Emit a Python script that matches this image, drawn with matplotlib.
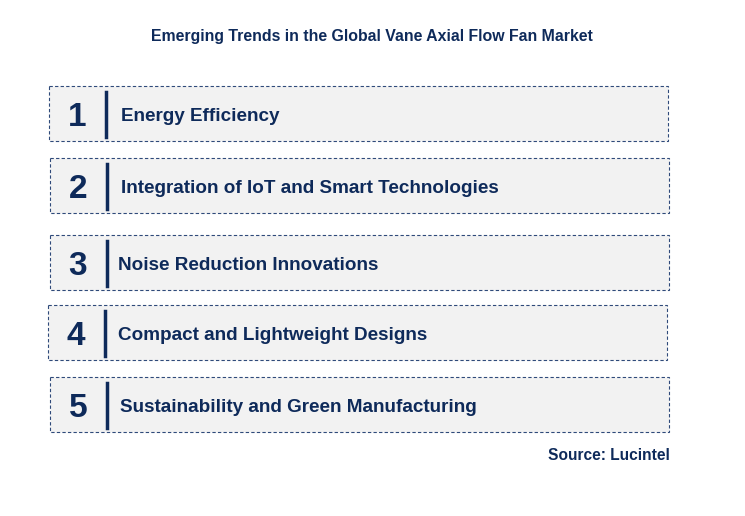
import matplotlib
matplotlib.use("Agg")
import matplotlib.pyplot as plt
from matplotlib.patches import Rectangle

plt.rcParams["font.family"] = "Liberation Sans"

title = "Emerging Trends in the Global Vane Axial Flow Fan Market"
numbers = ["1", "2", "3", "4", "5"]
trends = [
    "Energy Efficiency",
    "Integration of IoT and Smart Technologies",
    "Noise Reduction Innovations",
    "Compact and Lightweight Designs",
    "Sustainability and Green Manufacturing",
]
source = "Source: Lucintel"

# layout (pixels)
box_x = [49, 50, 50, 48, 50]
box_top = [86, 158, 235, 305, 377]
box_w, box_h = 619, 55
text_x = [121, 121, 118, 118, 120]

navy = "#0e2a5a"
fig = plt.figure(figsize=(7.45, 5.16), dpi=100)
ax = fig.add_axes([0, 0, 1, 1])
ax.set_xlim(0, 745)
ax.set_ylim(516, 0)
ax.axis("off")

ax.text(372, 36, title, ha="center", va="center", fontsize=11.4, fontweight="bold", color=navy)

for n, t, x, y, tx in zip(numbers, trends, box_x, box_top, text_x):
    ax.add_patch(Rectangle((x, y), box_w, box_h, facecolor="#f2f2f2",
                           edgecolor="#2f4a7a", linestyle=(0, (3, 2)), linewidth=0.8))
    cy = y + box_h / 2
    ax.text(x + 28, cy + 4, n, ha="center", va="center", fontsize=24, fontweight="bold", color=navy)
    ax.plot([x + 57, x + 57], [y + 6, y + box_h - 4], color=navy, linewidth=2.5)
    ax.text(tx, cy + 3, t, ha="left", va="center", fontsize=13.6, fontweight="bold", color=navy)

ax.text(670, 455, source, ha="right", va="center", fontsize=11.2, fontweight="bold", color=navy)

fig.savefig("out.png", dpi=100, facecolor="white")
